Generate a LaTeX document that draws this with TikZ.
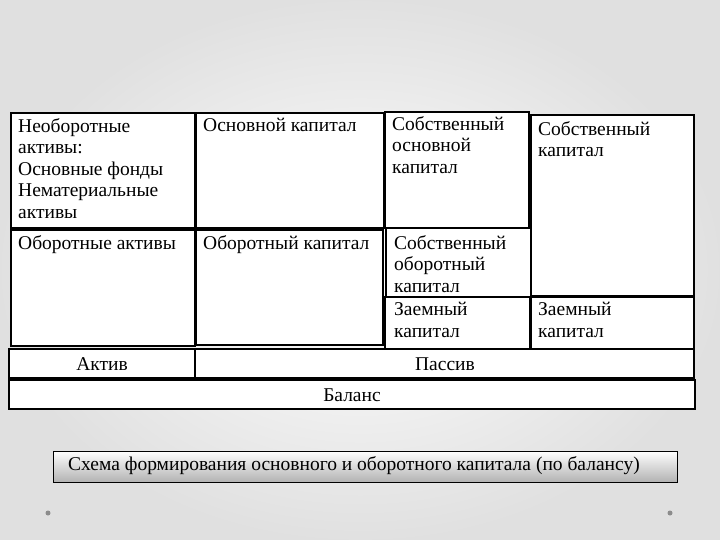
\documentclass[tikz,border=0pt]{standalone}
\usepackage{fontspec}
\setmainfont{Liberation Serif}
\begin{document}
\begin{tikzpicture}[x=1pt,y=-1pt,
  cell/.style={draw=black,line width=1.8pt,fill=white},
  txt/.style={anchor=north west,align=left,inner sep=0pt,font=\fontsize{19.5}{21.5}\selectfont},
  ctr/.style={inner sep=0pt,font=\fontsize{19.5}{21.5}\selectfont}]
\useasboundingbox (0,0) rectangle (720,540);
\shade[inner color=white,outer color=black!12] (0,0) rectangle (720,540);
% cells
\draw[cell] (11,113) rectangle (195,228);
\draw[cell] (196,113) rectangle (384,228);
\draw[cell] (385,112) rectangle (529,228);
\draw[cell] (531,115) rectangle (694,296);
\draw[cell] (11,230) rectangle (195,346);
\draw[cell] (196,230) rectangle (383,345);
\draw[cell] (386,228) rectangle (531,297);
\draw[cell] (385,297) rectangle (530,349);
\draw[cell] (531,297) rectangle (694,349);
\draw[cell] (9,349) rectangle (195,378);
\draw[cell] (195,349) rectangle (694,378);
\draw[cell] (9,380) rectangle (695,409);
\node[txt] (t1) at (18,118) {Необоротные\\активы:\\Основные фонды\\Нематериальные\\активы};
\node[txt] (t2) at (203,118) {Основной капитал};
\node[txt] (t3) at (392,116) {Собственный\\основной\\капитал};
\node[txt] (t4) at (538,121) {Собственный\\капитал};
\node[txt] (t5) at (18,235) {Оборотные активы};
\node[txt] (t6) at (203,235) {Оборотный капитал};
\node[txt] (t7) at (394,235) {Собственный\\оборотный\\капитал};
\node[txt] (t8) at (394,302) {Заемный\\капитал};
\node[txt] (t9) at (538,302) {Заемный\\капитал};
\node[ctr] (akt) at (102,364) {Актив};
\node[ctr] (pas) at (445,364) {Пассив};
\node[ctr] (bal) at (352,395) {Баланс};
% caption
\shade[top color=white,bottom color=black!30,draw=black,line width=0.8pt] (53,451) rectangle (677,482);
\node[ctr] (cap) at (354,466) {Схема формирования основного и оборотного капитала (по балансу)};
\fill[black!45] (48,513) circle (2.5);
\fill[black!45] (670,513) circle (2.5);
\end{tikzpicture}
\end{document}
